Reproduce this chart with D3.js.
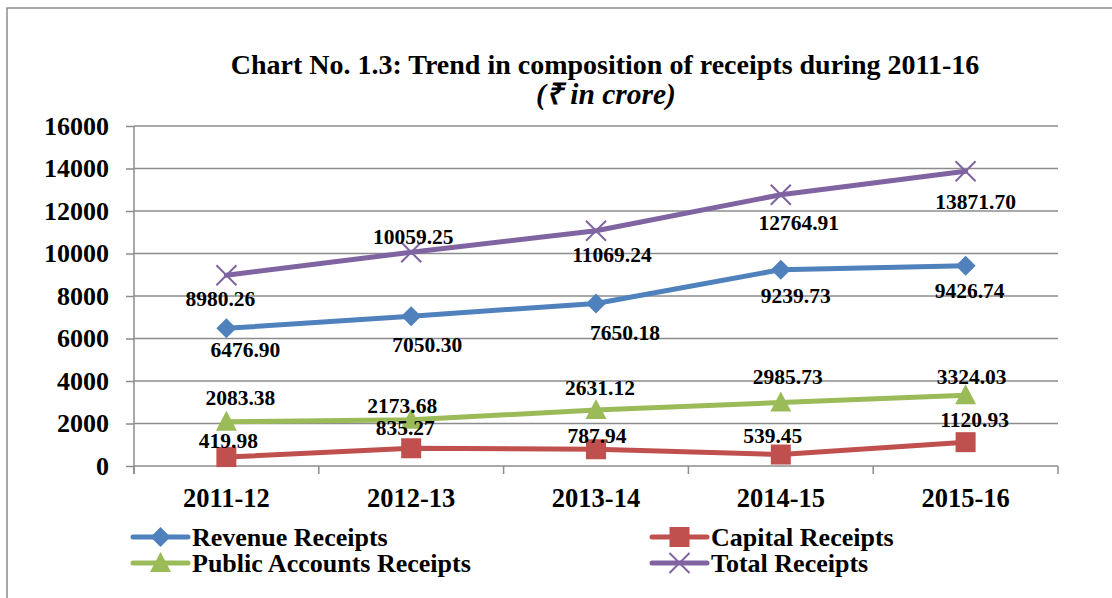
<!DOCTYPE html>
<html>
<head>
<meta charset="utf-8">
<script src="https://cdn.jsdelivr.net/npm/d3@7"></script>
<style>
  html, body { margin: 0; padding: 0; background: #fff; }
  svg { display: block; font-family: "Liberation Serif", "Times New Roman", serif; }
</style>
</head>
<body>
<svg id="chart" width="1112" height="598"></svg>
<script>
// chart data
var years = ["2011-12", "2012-13", "2013-14", "2014-15", "2015-16"];
var revenueReceipts = [6476.90, 7050.30, 7650.18, 9239.73, 9426.74];
var capitalReceipts = [419.98, 835.27, 787.94, 539.45, 1120.93];
var publicAccountsReceipts = [2083.38, 2173.68, 2631.12, 2985.73, 3324.03];
var totalReceipts = [8980.26, 10059.25, 11069.24, 12764.91, 13871.70];
var yTicks = [0, 2000, 4000, 6000, 8000, 10000, 12000, 14000, 16000];

// where each value label sits relative to its point [dx, dy of baseline]
var revenueLabelShift = [[19, 29], [16, 36], [29, 37], [15, 33], [4, 32]];
var capitalLabelShift = [[2, -9], [-6, -13], [1, -6], [-8, -12], [9, -15]];
var publicLabelShift = [[14, -17], [-9, -7], [4, -15], [7, -19], [6, -11]];
var totalLabelShift = [[-6, 31], [2, -8], [16, 31], [18, 35], [10, 38]];

var series = [
    {name: "Revenue Receipts", values: revenueReceipts, color: "#4F81BD", marker: "diamond", shift: revenueLabelShift},
    {name: "Capital Receipts", values: capitalReceipts, color: "#C0504D", marker: "square", shift: capitalLabelShift},
    {name: "Public Accounts Receipts", values: publicAccountsReceipts, color: "#9BBB59", marker: "triangle", shift: publicLabelShift},
    {name: "Total Receipts", values: totalReceipts, color: "#8064A2", marker: "cross", shift: totalLabelShift}
];

var svg = d3.select("#chart");
var gridColor = "#8c8c8c";
var serif = "Liberation Serif, Times New Roman, serif";

// outer frame (cropped at right and bottom like the picture)
svg.append("rect")
    .attr("x", 7).attr("y", 8)
    .attr("width", 1120).attr("height", 600)
    .attr("fill", "none")
    .attr("stroke", gridColor)
    .attr("stroke-width", 1.5);

var plotLeft = 134, plotRight = 1058, plotTop = 126, plotBottom = 466;

var x = d3.scaleBand().domain(years).range([plotLeft, plotRight]).padding(0);
var y = d3.scaleLinear().domain([0, 16000]).range([plotBottom, plotTop]);
var cx = function(i){ return x(years[i]) + x.bandwidth() / 2; };

// title
svg.append("text")
    .attr("x", 605).attr("y", 74)
    .attr("text-anchor", "middle")
    .attr("font-size", "28px")
    .attr("font-weight", "bold")
    .text("Chart No. 1.3: Trend in composition of receipts during 2011-16");

svg.append("text")
    .attr("x", 606).attr("y", 104)
    .attr("text-anchor", "middle")
    .attr("font-size", "29.5px")
    .attr("font-weight", "bold")
    .attr("font-style", "italic")
    .text("(\u20B9 in crore)");

// gridlines
svg.append("g").selectAll("line").data(yTicks).enter().append("line")
    .attr("x1", plotLeft).attr("x2", plotRight)
    .attr("y1", function(d){ return y(d); })
    .attr("y2", function(d){ return y(d); })
    .attr("stroke", gridColor)
    .attr("stroke-width", 1.5);

// y axis
var yAxis = svg.append("g")
    .attr("transform", "translate(" + plotLeft + ",0)")
    .call(d3.axisLeft(y).tickValues(yTicks).tickSize(8).tickPadding(17).tickFormat(d3.format("d")));
yAxis.select(".domain").remove();
yAxis.selectAll(".tick line").attr("stroke", gridColor).attr("stroke-width", 1.5);
yAxis.selectAll(".tick text")
    .attr("font-family", serif)
    .attr("font-size", "26px")
    .attr("font-weight", "bold")
    .attr("fill", "#000")
    .attr("dy", "0.32em");

svg.append("line")
    .attr("x1", plotLeft).attr("x2", plotLeft)
    .attr("y1", plotTop).attr("y2", plotBottom + 8)
    .attr("stroke", gridColor).attr("stroke-width", 1.5);

// x axis: labels centred, tick marks at the category boundaries
var xAxis = svg.append("g")
    .attr("transform", "translate(0," + plotBottom + ")")
    .call(d3.axisBottom(x).tickSize(0));
xAxis.select(".domain").remove();
xAxis.selectAll(".tick text")
    .attr("font-family", serif)
    .attr("font-size", "26.5px")
    .attr("font-weight", "bold")
    .attr("fill", "#000")
    .attr("y", 41)
    .attr("dy", 0);

var bounds = years.map(function(c){ return x(c); }).concat([plotRight]);
svg.append("g").selectAll("line").data(bounds).enter().append("line")
    .attr("x1", function(d){ return d; }).attr("x2", function(d){ return d; })
    .attr("y1", plotBottom).attr("y2", plotBottom + 8)
    .attr("stroke", gridColor).attr("stroke-width", 1.5);

// markers
function drawMarker(g, type, color) {
    if (type == "diamond") {
        g.append("path").attr("d", "M0,-10L10,0L0,10L-10,0Z").attr("fill", color);
    } else if (type == "square") {
        g.append("rect").attr("x", -10).attr("y", -10).attr("width", 20).attr("height", 20).attr("fill", color);
    } else if (type == "triangle") {
        g.append("path").attr("d", "M0,-11L10.5,9L-10.5,9Z").attr("fill", color);
    } else {
        g.append("path").attr("d", "M-10,-10L10,10M-10,10L10,-10")
            .attr("stroke", color).attr("stroke-width", 2).attr("fill", "none");
    }
}

var line = d3.line()
    .x(function(d, i){ return cx(i); })
    .y(function(d){ return y(d); });

series.forEach(function(s){
    svg.append("path")
        .datum(s.values)
        .attr("d", line)
        .attr("fill", "none")
        .attr("stroke", s.color)
        .attr("stroke-width", 5)
        .attr("stroke-linejoin", "round")
        .attr("stroke-linecap", "round");

    s.values.forEach(function(v, i){
        var g = svg.append("g").attr("transform", "translate(" + cx(i) + "," + y(v) + ")");
        drawMarker(g, s.marker, s.color);
    });
});

// value labels on top
series.forEach(function(s){
    svg.append("g").selectAll("text").data(s.values).enter().append("text")
        .attr("x", function(d, i){ return cx(i) + s.shift[i][0]; })
        .attr("y", function(d, i){ return y(d) + s.shift[i][1]; })
        .attr("text-anchor", "middle")
        .attr("font-size", "21.5px")
        .attr("font-weight", "bold")
        .text(function(d){ return d3.format(".2f")(d); });
});

// legend, two columns
var legendPos = [[133, 537], [652, 537], [133, 563], [652, 563]];
series.forEach(function(s, i){
    var lg = svg.append("g").attr("transform", "translate(" + legendPos[i][0] + "," + legendPos[i][1] + ")");
    lg.append("line")
        .attr("x1", 0).attr("x2", 55)
        .attr("stroke", s.color).attr("stroke-width", 5)
        .attr("stroke-linecap", "round");
    drawMarker(lg.append("g").attr("transform", "translate(27.5,0)"), s.marker, s.color);
    lg.append("text")
        .attr("x", 59).attr("y", 9)
        .attr("font-size", "26px")
        .attr("font-weight", "bold")
        .text(s.name);
});
</script>
</body>
</html>
